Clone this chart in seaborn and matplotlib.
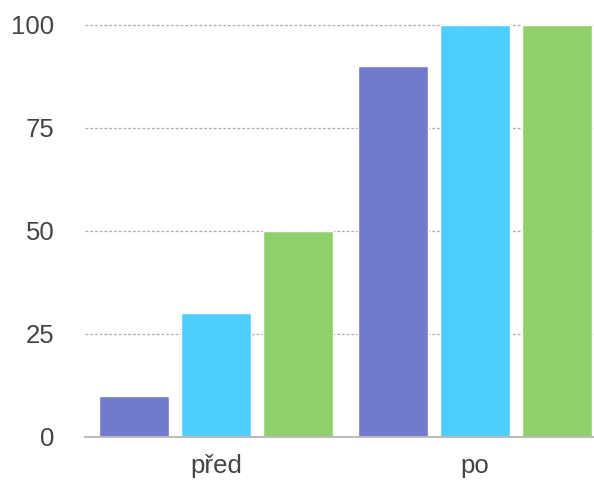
import matplotlib
matplotlib.use("Agg")
import matplotlib.pyplot as plt
import seaborn as sns
import pandas as pd

categories = ["před", "po"]
series_names = ["A", "B", "C"]
values_a = [10, 90]
values_b = [30, 100]
values_c = [50, 100]
colors = ["#727bcb", "#4ecdff", "#8fd06a"]
yticks = [0, 25, 50, 75, 100]

rows = []
for name, vals in zip(series_names, [values_a, values_b, values_c]):
    for cat, v in zip(categories, vals):
        rows.append({"cat": cat, "series": name, "value": v})
df = pd.DataFrame(rows)

sns.set_style("white")
plt.rcParams["font.family"] = ["Liberation Sans", "DejaVu Sans"]

fig = plt.figure(figsize=(5.94, 4.82), dpi=100)
ax = fig.add_axes([85 / 594, 45 / 482, 509 / 594, 413 / 482])

sns.barplot(data=df, x="cat", y="value", hue="series", order=categories,
            hue_order=series_names, palette=colors, width=0.95, gap=0.15,
            saturation=1, legend=False, ax=ax, zorder=3)

ax.set_xlim(-0.505, 1.46)
ax.set_ylim(0, 100.2)
ax.set_yticks(yticks)
ax.set_yticklabels([str(t) for t in yticks])
ax.yaxis.grid(True, color="#aaaaaa", linestyle=(0, (2.2, 1.6)), linewidth=0.9, zorder=0)
ax.xaxis.grid(False)
ax.set_axisbelow(True)
for s in ["top", "right", "left"]:
    ax.spines[s].set_visible(False)
ax.spines["bottom"].set_color("#bbbbbb")
ax.spines["bottom"].set_linewidth(1.5)
ax.spines["bottom"].set_zorder(4)
ax.tick_params(axis="y", length=0, pad=22, labelsize=18.5, labelcolor="#444444")
ax.tick_params(axis="x", length=0, pad=12, labelsize=18.5, labelcolor="#444444")
ax.set_xlabel("")
ax.set_ylabel("")

fig.savefig("out.png", dpi=100)
